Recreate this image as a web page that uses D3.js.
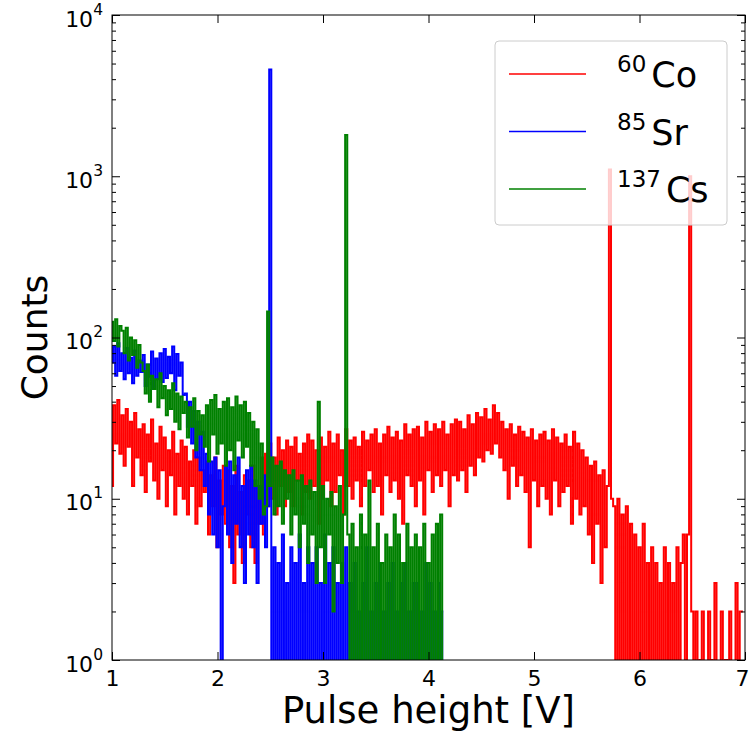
<!DOCTYPE html>
<html>
<head>
<meta charset="utf-8">
<script src="https://cdn.jsdelivr.net/npm/d3@7"></script>
<style>
  body { margin: 0; background: #fff; }
  text { font-family: "DejaVu Sans", sans-serif; }
</style>
</head>
<body>
<svg id="svg_spectrum" width="750" height="733"></svg>
<script>
// pulse height bins: first bin at 1.00 V, 0.02 V wide
var binStart = 1.0;
var binWidth = 0.02;

// 60Co counts, 1.00 .. 6.98 V
var cobaltCounts = [
  12, 38, 22, 41, 19,
  33, 16, 36, 21, 30, 12, 34, 18, 27, 14,
  29, 11, 25, 17, 31, 13, 22, 10, 28, 15,
  24, 9, 20, 14, 26, 8, 19, 12, 23, 10,
  21, 8, 17, 12, 20, 7, 18, 9, 15, 11,
  17, 6, 14, 9, 18, 5, 13, 8, 16, 7,
  15, 5, 12, 3, 16, 6, 11, 4, 14, 8,
  13, 5, 16, 4, 12, 7, 18, 6, 19, 9,
  22, 10, 18, 8, 24, 12, 20, 9, 23, 11,
  21, 9, 24, 13, 19, 8, 22, 11, 25, 10,
  23, 12, 20, 7, 24, 10, 21, 13, 26, 9,
  22, 11, 25, 14, 20, 8, 27, 12, 23, 10,
  24, 13, 21, 9, 26, 12, 23, 15, 25, 11,
  27, 12, 22, 8, 25, 14, 28, 11, 24, 13,
  26, 10, 23, 7, 29, 14, 25, 12, 27, 9,
  28, 13, 24, 8, 30, 15, 26, 11, 29, 14,
  27, 12, 30, 15, 25, 9, 29, 14, 31, 13,
  30, 15, 27, 11, 33, 16, 29, 14, 34, 18,
  32, 17, 36, 20, 31, 19, 38, 22, 34, 18,
  30, 15, 27, 10, 29, 16, 25, 12, 28, 14,
  26, 11, 24, 5, 27, 13, 23, 9, 25, 12,
  26, 10, 23, 8, 27, 13, 24, 9, 22, 11,
  25, 12, 21, 7, 26, 10, 22, 8, 20, 9,
  18, 6, 16, 4, 17, 7, 14, 3, 15, 5,
  12, 1100, 10,
  9, 0, 10, 0, 8, 0, 9,
  0, 7, 0, 6, 0, 5, 0, 7, 0, 4,
  0, 5, 0, 4, 0, 3, 0, 5, 0, 4,
  0, 3, 0, 5, 0, 4, 6, 0,
  6, 1000, 2,
  0, 2, 0, 1, 2, 0, 0, 2, 1, 0, 3, 0, 0, 2, 0, 1, 0, 2, 0, 0, 3, 0, 2, 2
];

// 85Sr counts, 1.00 .. 4.14 V
var strontiumCounts = [
  70, 88, 58, 92, 62,
  80, 55, 86, 60, 75, 52, 83, 58, 72, 61,
  78, 50, 68, 57, 82, 48, 74, 55, 80, 53,
  85, 56, 76, 60, 88, 47, 79, 58, 70, 44,
  45, 28, 40, 22, 35, 18, 30, 15, 26, 12,
  19, 8, 17, 6, 18, 5, 15, 0, 9, 16,
  6, 17, 4, 14, 7, 18, 5, 12, 3, 15,
  6, 16, 5, 13, 3, 12, 7, 14, 5, 9,
  4600,
  0, 5, 0, 4, 0, 6, 0, 3, 0,
  5, 0, 4, 0, 6, 0, 3, 0, 5, 0,
  4, 0, 5, 0, 3, 0, 6, 0, 4, 0,
  5, 0, 3, 0, 4, 0, 5, 0, 3, 0,
  4, 0, 2, 0, 3, 0, 5, 0, 2, 0,
  3, 0, 4, 0, 2, 0, 3, 0, 4, 0,
  2, 0, 3, 0, 4, 0, 2, 0, 3, 0,
  3, 0, 2, 0, 4, 0, 3, 0, 2, 0,
  3, 0, 2
];

// 137Cs counts, 1.00 .. 4.14 V
var cesiumCounts = [
  125, 95, 130, 88, 118,
  110, 80, 115, 72, 100, 78, 96, 65, 90, 70,
  62, 45, 68, 40, 58, 48, 55, 37, 60, 42,
  50, 33, 47, 36, 52, 30, 45, 27, 43, 34,
  40, 24, 37, 28, 42, 20, 35, 25, 33, 21,
  38, 17, 41, 25, 44, 19, 36, 22, 40, 16,
  42, 20, 37, 15, 43, 23, 38, 18, 40, 21,
  34, 16, 30, 12, 27, 10, 22, 8, 9, 145,
  12, 18, 8, 16, 9, 17, 7, 15, 10, 14,
  6, 15, 8, 13, 5, 14, 7, 12, 4, 13,
  6, 11, 3, 40, 5, 12, 3, 10, 6, 11,
  2, 9, 4, 12, 3, 8, 1800, 6, 0, 7,
  0, 5, 0, 8, 0, 6, 0, 13, 0, 5,
  0, 7, 0, 4, 0, 6, 0, 5, 0, 8,
  0, 6, 0, 4, 0, 7, 0, 5, 0, 6,
  0, 5, 0, 7, 0, 4, 0, 6, 0, 7,
  0, 8, 0
];

var seriesIsotopes = ["60", "85", "137"];
var seriesElements = ["Co", "Sr", "Cs"];
var xTicks = [1, 2, 3, 4, 5, 6, 7];
var yTickExponents = [0, 1, 2, 3, 4];

var seriesColors = ["#ff0000", "#0000ff", "#008000"];

var svg = d3.select("#svg_spectrum"),
    margin = {top: 15, right: 5, bottom: 73, left: 112},
    width = +svg.attr("width") - margin.left - margin.right,
    height = +svg.attr("height") - margin.top - margin.bottom;

var g = svg.append("g").attr("transform", "translate(" + margin.left + "," + margin.top + ")");

var xScale = d3.scaleLinear().domain([1, 7]).range([0, width]);
var yScale = d3.scaleLog().domain([1, 10000]).range([height, 0]);

g.append("clipPath").attr("id", "plot_clip")
  .append("rect").attr("width", width).attr("height", height);

// zero counts drop below the axis, like matplotlib clipping on log scale
var countLine = d3.line()
    .curve(d3.curveStep)
    .x(function(d, i) { return xScale(binStart + i * binWidth); })
    .y(function(d) { return yScale(Math.max(d, 0.01)); });

var series = [cobaltCounts, strontiumCounts, cesiumCounts];
g.append("g").attr("clip-path", "url(#plot_clip)")
  .selectAll("path").data(series)
  .enter().append("path")
    .attr("fill", "none")
    .attr("stroke", function(d, i) { return seriesColors[i]; })
    .attr("stroke-width", 2)
    .attr("d", countLine);

// minor ticks for the log axis
var minorTicks = [];
yTickExponents.slice(0, -1).forEach(function(e) {
  for (var m = 2; m < 10; m++) minorTicks.push(m * Math.pow(10, e));
});
var majorTicks = yTickExponents.map(function(e) { return Math.pow(10, e); });

function styleAxis(sel) {
  sel.select(".domain").remove();
  sel.selectAll(".tick line").attr("stroke", "#000").attr("stroke-width", 1);
}

g.append("g").call(d3.axisLeft(yScale).tickValues(minorTicks).tickSize(-4).tickFormat("")).call(styleAxis);
g.append("g").attr("transform", "translate(" + width + ",0)")
  .call(d3.axisRight(yScale).tickValues(minorTicks).tickSize(-4).tickFormat("")).call(styleAxis);
g.append("g").attr("transform", "translate(" + width + ",0)")
  .call(d3.axisRight(yScale).tickValues(majorTicks).tickSize(-8).tickFormat("")).call(styleAxis);
g.append("g").call(d3.axisTop(xScale).tickValues(xTicks).tickSize(-8).tickFormat("")).call(styleAxis);

var yAxis = g.append("g")
  .call(d3.axisLeft(yScale).tickValues(majorTicks).tickSize(-8).tickFormat(""))
  .call(styleAxis);

var yLabels = yAxis.selectAll(".tick").append("text")
  .attr("fill", "#000")
  .attr("x", -9)
  .attr("y", 11)
  .attr("text-anchor", "end")
  .style("font-size", "22px");
yLabels.append("tspan").text("10");
yLabels.append("tspan")
  .attr("dy", -12)
  .style("font-size", "15.5px")
  .text(function(d, i) { return yTickExponents[i]; });

g.append("g")
  .attr("transform", "translate(0," + height + ")")
  .call(d3.axisBottom(xScale).tickValues(xTicks).tickSize(-8).tickPadding(10).tickFormat(d3.format("d")))
  .call(styleAxis)
  .selectAll("text")
    .attr("fill", "#000")
    .attr("dx", function(d) { return d === 7 ? -3 : 0; })  // keep the last label inside the page
    .style("font-size", "22px");

g.append("rect")
  .attr("width", width)
  .attr("height", height)
  .attr("fill", "none")
  .attr("stroke", "#000")
  .attr("stroke-width", 1);

svg.append("text")
  .attr("x", margin.left + width / 2)
  .attr("y", 723)
  .attr("text-anchor", "middle")
  .style("font-size", "37px")
  .text("Pulse height [V]");

svg.append("text")
  .attr("transform", "translate(47," + (margin.top + height / 2) + ") rotate(-90)")
  .attr("text-anchor", "middle")
  .style("font-size", "36px")
  .text("Counts");

// legend
var legend = svg.append("g").attr("transform", "translate(495,41)");
legend.append("rect")
  .attr("width", 232)
  .attr("height", 184)
  .attr("rx", 4)
  .attr("fill", "#fff")
  .attr("fill-opacity", 0.8)
  .attr("stroke", "#cccccc")
  .attr("stroke-width", 1);

var legendRows = legend.selectAll("g.row").data(seriesElements)
  .enter().append("g")
    .attr("class", "row")
    .attr("transform", function(d, i) { return "translate(0," + (33 + i * 57.5) + ")"; });

legendRows.append("line")
  .attr("x1", 14).attr("x2", 91)
  .attr("stroke", function(d, i) { return seriesColors[i]; })
  .attr("stroke-width", 1.5);

var legendText = legendRows.append("text")
  .attr("x", 122)
  .attr("y", 13)
  .attr("fill", "#000");
legendText.append("tspan")
  .attr("dy", -15)
  .style("font-size", "23px")
  .text(function(d, i) { return seriesIsotopes[i]; });
legendText.append("tspan")
  .attr("dx", 5)
  .attr("dy", 15)
  .style("font-size", "35px")
  .text(function(d) { return d; });
</script>
</body>
</html>
